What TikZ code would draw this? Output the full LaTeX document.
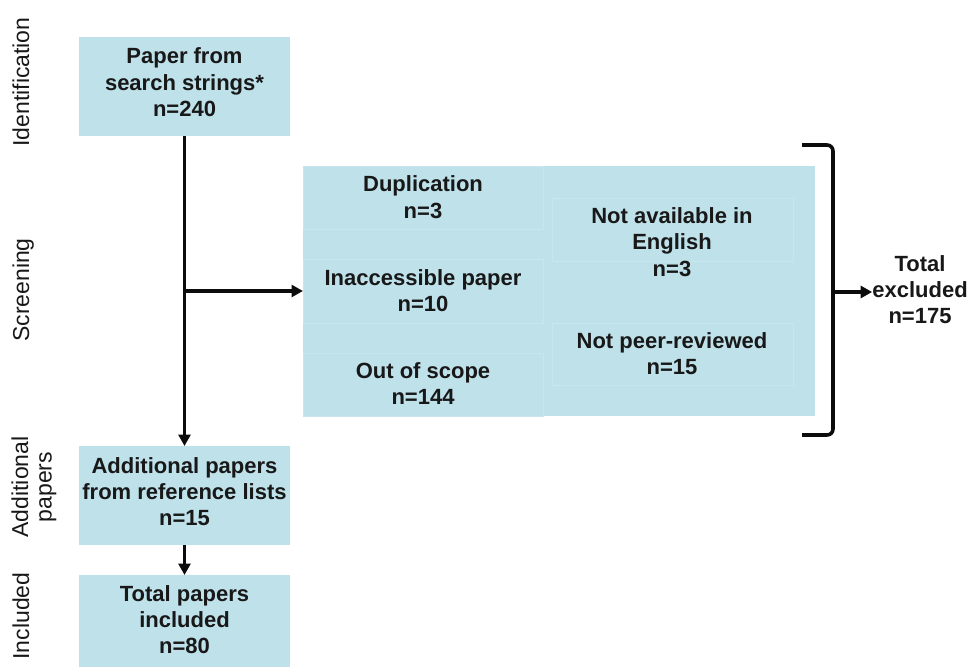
\documentclass[tikz,border=0pt]{standalone}
\usepackage{fontspec}
\setmainfont{Liberation Sans}
\usetikzlibrary{arrows.meta}
\definecolor{boxblue}{RGB}{190,225,234}
\definecolor{subedge}{RGB}{200,230,238}
\definecolor{inkgray}{RGB}{24,24,24}
\definecolor{linecol}{RGB}{12,12,12}
\begin{document}
\begin{tikzpicture}[x=1pt,y=-1pt,
  box/.style={rectangle, fill=boxblue, inner sep=0pt, outer sep=0pt},
  subbox/.style={box, draw=subedge, line width=0.6pt},
  btxt/.style={font=\bfseries\fontsize{22}{26.3}\selectfont, align=center, text=inkgray, inner sep=0pt},
  side/.style={font=\fontsize{23}{23.5}\selectfont, align=center, text=inkgray, inner sep=0pt, rotate=90},
  conn/.style={draw=linecol, line width=3.6pt, -{Triangle[length=11.5pt,width=12pt]}},
  brk/.style={draw=linecol, line width=3.6pt, rounded corners=6pt}]
\useasboundingbox (0,0) rectangle (971,667);

% side labels
\node[side, anchor=base] (lidf) at (29,82) {Identification};
\node[side, anchor=base] (lscr) at (29,290) {Screening};
\node[side] (ladd) at (33.9,487) {Additional\\papers};
\node[side, anchor=base] (linc) at (29,616) {Included};

% main boxes
\node[box, minimum width=211pt, minimum height=99pt] (paper) at (184.5,86.5) {};
\node[box, minimum width=211pt, minimum height=99pt] (addp) at (184.5,495.5) {};
\node[box, minimum width=211pt, minimum height=92pt] (totp) at (184.5,621) {};

\node[btxt] (paperT) at (184.5,82.4) {Paper from\\search strings*\\n=240};
\node[btxt] (addpT) at (184.5,491.5) {Additional papers\\from reference lists\\n=15};
\node[btxt] (totpT) at (184.5,619.5) {Total papers\\included\\n=80};

% screening box
\node[box, minimum width=512pt, minimum height=250pt] (screen) at (559,291) {};
\node[subbox, minimum width=240pt, minimum height=63pt] (dup) at (423,197.5) {};
\node[subbox, minimum width=240pt, minimum height=64pt] (inacc) at (423,291) {};
\node[subbox, minimum width=240pt, minimum height=63pt] (scope) at (423,384.5) {};
\node[subbox, minimum width=241pt, minimum height=63pt] (navail) at (672.5,229.5) {};
\node[subbox, minimum width=241pt, minimum height=62pt] (npeer) at (672.5,354) {};

\node[btxt] (dupT) at (423,197) {Duplication\\n=3};
\node[btxt] (inaccT) at (423,290.5) {Inaccessible paper\\n=10};
\node[btxt] (scopeT) at (423,383.5) {Out of scope\\n=144};
\node[btxt] (navailT) at (672,242) {Not available in\\English\\n=3};
\node[btxt] (npeerT) at (672,353.5) {Not peer-reviewed\\n=15};

% total excluded
\node[btxt] (totx) at (920,289.5) {Total\\excluded\\n=175};

% connectors
\draw[conn] (paper.south) -- (addp.north);
\draw[conn] (paper.south |- screen.west) -- (screen.west);
\draw[conn] (addp.south) -- (totp.north);

% bracket
\coordinate (bt1) at (802,145);
\coordinate (bt2) at (833,145);
\coordinate (bb2) at (833,435);
\coordinate (bb1) at (802,435);
\coordinate (bm) at (833,292);
\draw[brk] (bt1) -- (bt2) -- (bb2) -- (bb1);
\draw[conn] (bm) -- (bm -| totx.west);
\end{tikzpicture}
\end{document}
